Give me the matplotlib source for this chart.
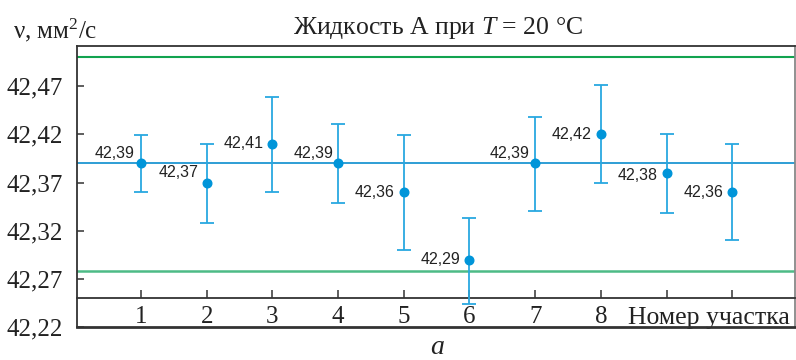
import numpy as np
import matplotlib.pyplot as plt

# data
sections = [1, 2, 3, 4, 5, 6, 7, 8, 9, 10]
visc = [42.39, 42.37, 42.41, 42.39, 42.36, 42.29, 42.39, 42.42, 42.38, 42.36]
upper = [42.419, 42.410, 42.459, 42.431, 42.419, 42.333, 42.438, 42.471, 42.420, 42.410]
lower = [42.360, 42.328, 42.360, 42.349, 42.300, 42.244, 42.340, 42.369, 42.338, 42.310]
labels = ["42,39", "42,37", "42,41", "42,39", "42,36", "42,29", "42,39", "42,42", "42,38", "42,36"]
mean_level = 42.39
limit_hi = 42.50
limit_lo = 42.278
yticks = [42.22, 42.27, 42.32, 42.37, 42.42, 42.47]
ytick_labels = ["42,22", "42,27", "42,32", "42,37", "42,42", "42,47"]
xtick_labels = ["1", "2", "3", "4", "5", "6", "7", "8", "", ""]

# label offsets in pixels (raised where the label would sit on the mean line)
label_dy = [10, 10, 0, 10, 0, 0, 10, 0, -3, 0]
label_dx = [-6, -8, -9, -5, -9, -9, -6, -9, -9, -9]

serif = "Liberation Serif"
sans = "Liberation Sans"
frame = "#333333"
blue_pt = "#0095d9"
blue_err = "#29a8e0"
blue_line = "#1e96d2"

plt.rcParams["mathtext.fontset"] = "custom"
plt.rcParams["mathtext.rm"] = serif
plt.rcParams["mathtext.it"] = serif + ":italic"

fig = plt.figure(figsize=(7.96, 3.6), dpi=100)
ax = fig.add_axes([77 / 796, 1 - 327 / 360, 718 / 796, 281 / 360])

ax.set_xlim(0.026, 10.955)
ax.set_ylim(42.22, 42.5117)

ax.axhline(limit_hi, color="#12a34f", lw=1.5, zorder=1)
ax.axhline(limit_lo, color="#4dbb86", lw=1.8, zorder=1)
ax.axhline(mean_level, color=blue_line, lw=1.3, zorder=1)

yerr = [np.array(visc) - np.array(lower), np.array(upper) - np.array(visc)]
ax.errorbar(sections, visc, yerr=yerr, fmt="o", color=blue_pt, ms=6.2,
            ecolor=blue_err, elinewidth=1.3, capsize=4.7, capthick=1.3,
            zorder=3, clip_on=False)

for x, y, t, dx, dy in zip(sections, visc, labels, label_dx, label_dy):
    ax.annotate(t, (x, y), xytext=(dx * 0.72, dy * 0.72), textcoords="offset points",
                ha="right", va="center", fontsize=11.5, family=sans, color="#222222")

# frame
for s in ["left", "right", "top"]:
    ax.spines[s].set_color(frame)
    ax.spines[s].set_linewidth(1.3)
ax.spines["right"].set_color("#888888")
ax.spines["bottom"].set_position(("data", 42.25))
ax.spines["bottom"].set_color(frame)
ax.spines["bottom"].set_linewidth(1.3)
ax.axhline(42.22, color=frame, lw=2.0, clip_on=False, zorder=5)

ax.set_xticks(sections)
ax.set_xticklabels(xtick_labels)
ax.tick_params(axis="x", direction="in", length=6, width=1.1, color=frame,
               pad=6, labelsize=18)
ax.set_yticks(yticks)
ax.set_yticklabels(ytick_labels)
ax.tick_params(axis="y", direction="in", length=5, width=1.1, color=frame,
               pad=10, labelsize=18)
for lab in ax.get_xticklabels() + ax.get_yticklabels():
    lab.set_family(serif)
    lab.set_color("#222222")

ax.text(10.88, 42.2235, "Номер участка", ha="right", va="baseline",
        fontsize=18.5, family=serif, color="#222222")

fig.text(13 / 796, 1 - 30 / 360, "ν, мм$^2$/с", ha="left", va="center",
         fontsize=18, family=serif, color="#222222")
fig.text(438 / 796, 1 - 28 / 360, "Жидкость А при $T$ = 20 °С", ha="center",
         va="center", fontsize=18.5, family=serif, color="#222222")
fig.text(437 / 796, 1 - 347 / 360, "а", ha="center", va="center",
         fontsize=20, family=serif, style="italic", color="#222222")

fig.savefig("out.png", dpi=100)
